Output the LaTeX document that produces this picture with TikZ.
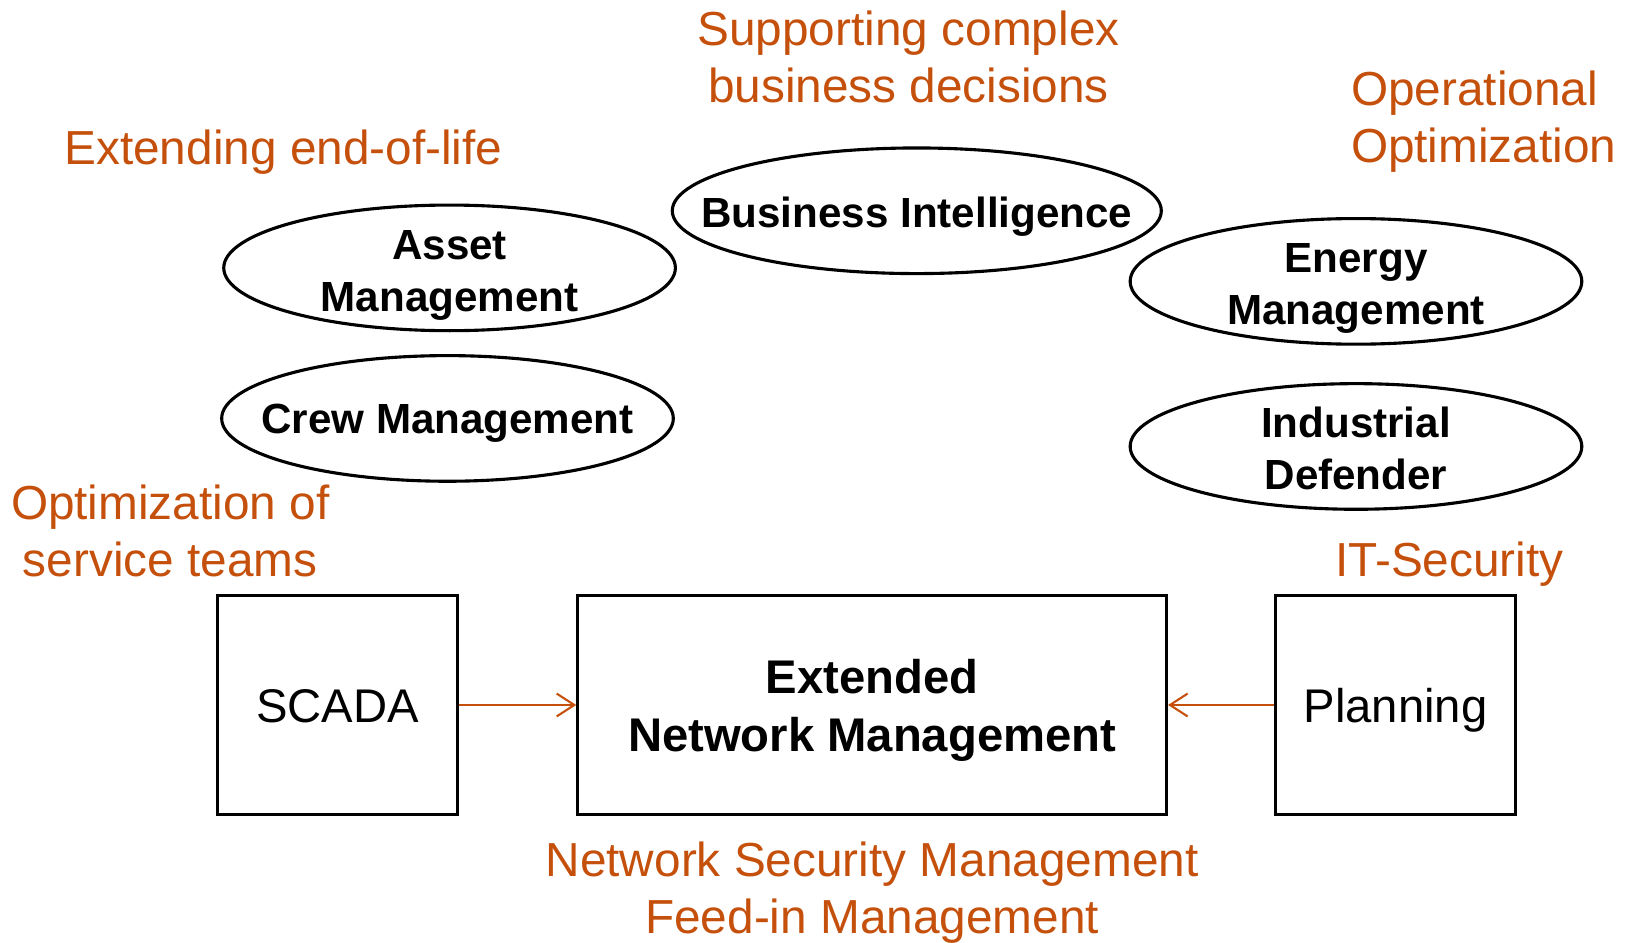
\documentclass[tikz,border=0pt]{standalone}
\usepackage{fontspec}
\setmainfont{Liberation Sans}
\usetikzlibrary{shapes.geometric,arrows.meta}
\definecolor{accent}{RGB}{197,80,12}
\begin{document}
\begin{tikzpicture}[x=1pt,y=-1pt,
  oval/.style={ellipse,draw,line width=3pt,minimum width=435pt,minimum height=121pt,inner sep=0pt},
  ovaltext/.style={inner sep=0pt,align=center,font=\fontsize{40.6}{50}\selectfont\bfseries},
  block/.style={rectangle,draw,line width=3pt,minimum height=211pt,inner sep=0pt},
  blocktext/.style={inner sep=0pt,align=center,font=\fontsize{45.5}{56}\selectfont},
  note/.style={text=accent,inner sep=0pt,font=\fontsize{46}{55}\selectfont},
  flow/.style={draw=accent,line width=2pt,-{Straight Barb[length=17pt,width=22pt,line width=2pt]}}
]
\useasboundingbox (0,0) rectangle (1568,908);

% application ellipses
\node[oval] (asset) at (433,258) {};
\node[ovaltext] (assett) at (433,265) {Asset\\Management};
\node[oval] (crew) at (431,403) {};
\node[ovaltext] (crewt) at (431,408) {Crew Management};
\node[oval,minimum width=471pt] (bi) at (883,203) {};
\node[ovaltext] (bit) at (883,209) {Business Intelligence};
\node[oval] (energy) at (1306,271) {};
\node[ovaltext] (energyt) at (1306,278) {Energy\\Management};
\node[oval] (defender) at (1306,430) {};
\node[ovaltext] (defendert) at (1306,432) {Industrial\\Defender};

% core systems
\node[block,minimum width=231pt] (scada) at (325,679) {};
\node[blocktext] (scadat) at (325,680) {SCADA};
\node[block,minimum width=567pt] (enm) at (840,679) {};
\node[blocktext,font=\fontsize{45.5}{56}\selectfont\bfseries] (enmt) at (840,684) {Extended\\Network Management};
\node[block,minimum width=231pt] (plan) at (1344,679) {};
\node[blocktext] (plant) at (1344,684) {Planning};

% data flows into the network management
\draw[flow] (scada) -- (enm);
\draw[flow] (plan) -- (enm);

% benefit annotations
\node[note,align=center] (n1) at (875,55) {Supporting complex\\business decisions};
\node[note] (n2) at (273,147) {Extending end-of-life};
\node[note,align=left,anchor=west] (n3) at (1301,117) {Operational\\Optimization};
\node[note,align=center] (n4) at (164,511) {Optimization of\\service teams};
\node[note] (n5) at (1396,543) {IT-Security};
\node[note,align=center] (n6) at (840,860) {Network Security Management\\Feed-in Management};
\end{tikzpicture}
\end{document}
